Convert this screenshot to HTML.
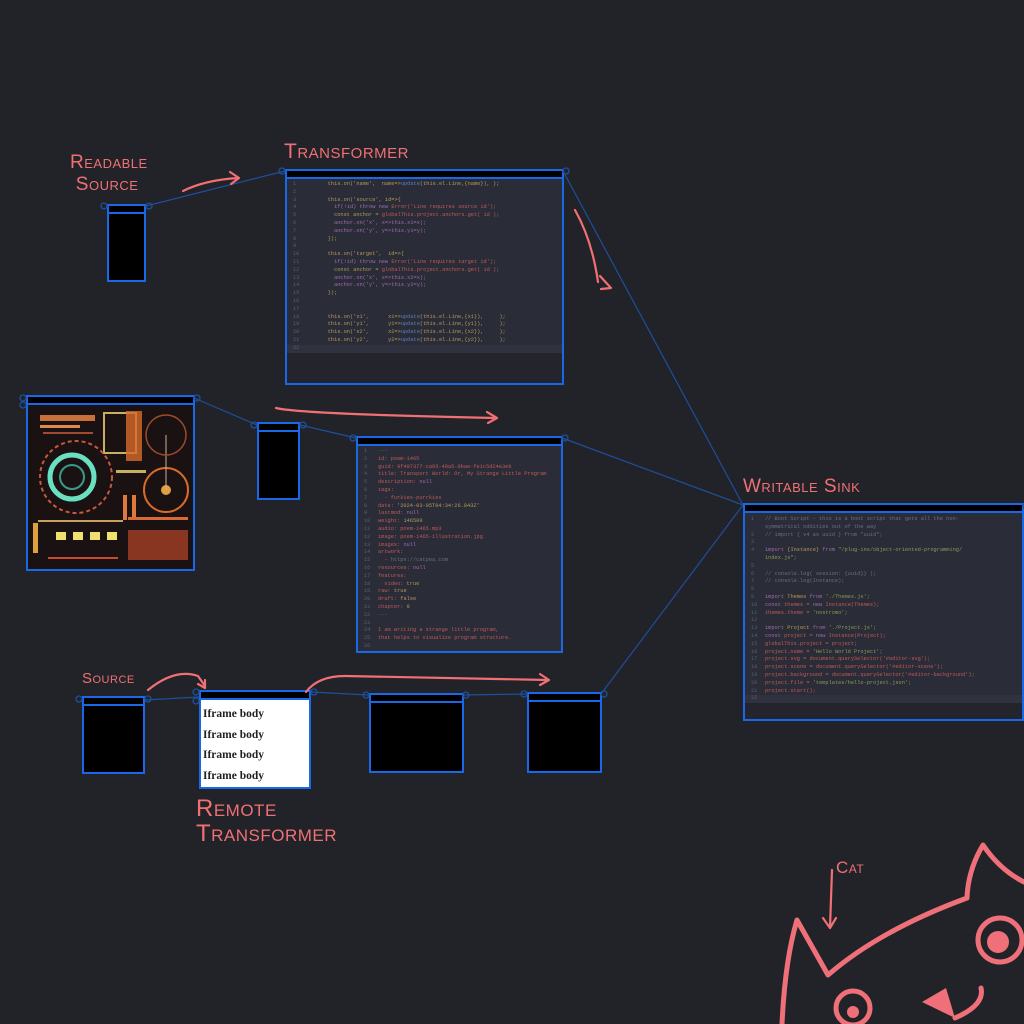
<!DOCTYPE html>
<html><head><meta charset="utf-8"><style>
body{margin:0;width:1024px;height:1024px;background:#222328;overflow:hidden;position:relative;font-family:"Liberation Mono",monospace}
.n{position:absolute;border:2px solid #1868e8;box-sizing:border-box;background:#000;overflow:hidden}
.n .h{position:absolute;left:0;right:0;top:0;height:6px;background:#000;border-bottom:2px solid #1868e8}
.code{position:absolute;left:0;right:0;top:8px;background:#2a2c37;font-size:5.3px;color:#9a8a6a;overflow:hidden}
.code div{padding-left:6px;height:7.8px;line-height:7.8px;overflow:hidden;display:block;white-space:pre}
.code .a{background:#30333f}
.ln{color:#5a5f70;display:inline-block;width:22px;height:7.8px;line-height:7.8px;vertical-align:top}
.r{color:#c05a5a}.b{color:#5a7fc0}.g{color:#8a9a5a}.p{color:#a06ab0}.y{color:#b59a5a}.c{color:#6a7080}
.lbl{position:absolute;color:#f07075;font-family:"Liberation Sans",sans-serif;font-variant:small-caps;letter-spacing:0.5px}
svg{position:absolute;left:0;top:0}
</style></head><body>

<svg width="1024" height="1024" style="z-index:0">
<g stroke="#1d4f9c" stroke-width="1.2" fill="none">
<line x1="146" y1="206" x2="285" y2="171"/>
<line x1="563" y1="171" x2="743" y2="505"/>
<line x1="194" y1="398" x2="257" y2="425"/>
<line x1="300" y1="425" x2="356" y2="438"/>
<line x1="562" y1="438" x2="743" y2="505"/>
<line x1="601" y1="694" x2="743" y2="505"/>
<line x1="145" y1="700" x2="199" y2="697"/>
<line x1="311" y1="692" x2="369" y2="695"/>
<line x1="463" y1="695" x2="527" y2="694"/>
</g>
</svg>

<div class="n" style="left:107px;top:204px;width:39px;height:78px"><div class="h"></div></div>

<div class="n" style="left:285px;top:169px;width:279px;height:216px;background:#24252c"><div class="h"></div>
<div class="code" style="top:8px;padding-top:2px">
<div><span class="ln">1</span>    <span class="y">this.on('name',  name=&gt;</span><span class="b">update</span><span class="y">(this.el.Line,{name}), );</span></div>
<div><span class="ln">2</span></div>
<div><span class="ln">3</span>    <span class="y">this.on('source', id=&gt;{</span></div>
<div><span class="ln">4</span>      <span class="p">if(!id) throw new</span> <span class="r">Error('Line requires source id');</span></div>
<div><span class="ln">5</span>      <span class="y">const anchor = </span><span class="r">globalThis.project.anchors.get( id );</span></div>
<div><span class="ln">6</span>      <span class="p">anchor.on('x', x=&gt;this.x1=x);</span></div>
<div><span class="ln">7</span>      <span class="p">anchor.on('y', y=&gt;this.y1=y);</span></div>
<div><span class="ln">8</span>    <span class="y">});</span></div>
<div><span class="ln">9</span></div>
<div><span class="ln">10</span>    <span class="y">this.on('target',  id=&gt;{</span></div>
<div><span class="ln">11</span>      <span class="p">if(!id) throw new</span> <span class="r">Error('Line requires target id');</span></div>
<div><span class="ln">12</span>      <span class="y">const anchor = </span><span class="r">globalThis.project.anchors.get( id );</span></div>
<div><span class="ln">13</span>      <span class="p">anchor.on('x', x=&gt;this.x2=x);</span></div>
<div><span class="ln">14</span>      <span class="p">anchor.on('y', y=&gt;this.y2=y);</span></div>
<div><span class="ln">15</span>    <span class="y">});</span></div>
<div><span class="ln">16</span></div>
<div><span class="ln">17</span></div>
<div><span class="ln">18</span>    <span class="y">this.on('x1',      x1=&gt;</span><span class="b">update</span><span class="y">(this.el.Line,{x1}),     );</span></div>
<div><span class="ln">19</span>    <span class="y">this.on('y1',      y1=&gt;</span><span class="b">update</span><span class="y">(this.el.Line,{y1}),     );</span></div>
<div><span class="ln">20</span>    <span class="y">this.on('x2',      x2=&gt;</span><span class="b">update</span><span class="y">(this.el.Line,{x2}),     );</span></div>
<div><span class="ln">21</span>    <span class="y">this.on('y2',      y2=&gt;</span><span class="b">update</span><span class="y">(this.el.Line,{y2}),     );</span></div>
<div class="a"><span class="ln">22</span></div>
</div></div>

<div class="n" style="left:26px;top:395px;width:169px;height:176px"><div class="h"></div>
<svg width="165" height="164" style="top:8px;left:0">
<rect width="165" height="164" fill="#1a1212"/>
<rect x="12" y="10" width="55" height="6" fill="#c8703a"/><rect x="12" y="20" width="40" height="3" fill="#e08a4a"/><rect x="15" y="27" width="50" height="2" fill="#a04a30"/>
<rect x="76" y="8" width="32" height="40" fill="none" stroke="#c8b060" stroke-width="2"/><rect x="98" y="6" width="16" height="50" fill="#d86a2a" opacity=".8"/>
<circle cx="48" cy="72" r="36" fill="none" stroke="#c85a3a" stroke-width="2" stroke-dasharray="4 3"/>
<circle cx="44" cy="72" r="22" fill="none" stroke="#6ae0c0" stroke-width="5"/><circle cx="44" cy="72" r="12" fill="none" stroke="#3a9a8a" stroke-width="2"/>
<circle cx="138" cy="85" r="22" fill="none" stroke="#d86a2a" stroke-width="2"/><circle cx="138" cy="85" r="5" fill="#e0a040"/><line x1="138" y1="30" x2="138" y2="85" stroke="#d0b090"/>
<circle cx="138" cy="30" r="20" fill="none" stroke="#a04a2a" stroke-width="1.5"/>
<rect x="88" y="65" width="30" height="3" fill="#c8b060"/><rect x="95" y="90" width="4" height="25" fill="#e07a3a"/><rect x="104" y="90" width="4" height="25" fill="#e07a3a"/>
<rect x="5" y="118" width="5" height="30" fill="#e0a040"/><rect x="28" y="127" width="10" height="8" fill="#f0e070"/><rect x="45" y="127" width="10" height="8" fill="#f0e070"/><rect x="62" y="127" width="10" height="8" fill="#f0e070"/><rect x="79" y="127" width="10" height="8" fill="#f0e070"/>
<rect x="10" y="115" width="85" height="2" fill="#c8a060"/><rect x="20" y="152" width="70" height="2" fill="#c84a30"/>
<rect x="100" y="125" width="60" height="30" fill="#b8442a" opacity=".7"/><rect x="100" y="112" width="60" height="3" fill="#d86a3a"/>
</svg></div>

<div class="n" style="left:257px;top:422px;width:43px;height:78px"><div class="h"></div></div>

<div class="n" style="left:356px;top:436px;width:207px;height:217px;background:#2a2c37"><div class="h"></div>
<div class="code" style="top:10px">
<div><span class="ln" style="width:14px">1</span><span class="c">---</span></div>
<div><span class="ln" style="width:14px">2</span><span class="r">id: poem-1465</span></div>
<div><span class="ln" style="width:14px">3</span><span class="r">guid: 9f497377-ca93-40a5-9bae-fe1c5d24e3eb</span></div>
<div><span class="ln" style="width:14px">4</span><span class="r">title: Transport World: Or, My Strange Little Program</span></div>
<div><span class="ln" style="width:14px">5</span><span class="r">description: </span><span class="p">null</span></div>
<div><span class="ln" style="width:14px">6</span><span class="r">tags:</span></div>
<div><span class="ln" style="width:14px">7</span><span class="r">  - furkies-purrkies</span></div>
<div><span class="ln" style="width:14px">8</span><span class="r">date: </span><span class="y">'2024-03-05T04:34:26.843Z'</span></div>
<div><span class="ln" style="width:14px">9</span><span class="r">lastmod: </span><span class="p">null</span></div>
<div><span class="ln" style="width:14px">10</span><span class="r">weight: </span><span class="y">146500</span></div>
<div><span class="ln" style="width:14px">11</span><span class="r">audio: poem-1465.mp3</span></div>
<div><span class="ln" style="width:14px">12</span><span class="r">image: poem-1465-illustration.jpg</span></div>
<div><span class="ln" style="width:14px">13</span><span class="r">images: </span><span class="p">null</span></div>
<div><span class="ln" style="width:14px">14</span><span class="r">artwork:</span></div>
<div><span class="ln" style="width:14px">15</span><span class="r">  - </span><span class="c">https://catpea.com</span></div>
<div><span class="ln" style="width:14px">16</span><span class="r">resources: </span><span class="p">null</span></div>
<div><span class="ln" style="width:14px">17</span><span class="r">features:</span></div>
<div><span class="ln" style="width:14px">18</span><span class="r">  video: </span><span class="y">true</span></div>
<div><span class="ln" style="width:14px">19</span><span class="r">raw: </span><span class="y">true</span></div>
<div><span class="ln" style="width:14px">20</span><span class="r">draft: </span><span class="y">false</span></div>
<div><span class="ln" style="width:14px">21</span><span class="r">chapter: </span><span class="y">9</span></div>
<div><span class="ln" style="width:14px">22</span><span class="c">---</span></div>
<div><span class="ln" style="width:14px">23</span></div>
<div><span class="ln" style="width:14px">24</span><span class="r">I am writing a strange little program,</span></div>
<div><span class="ln" style="width:14px">25</span><span class="r">that helps to visualize program structure.</span></div>
<div><span class="ln" style="width:14px">26</span></div>
<div><span class="ln" style="width:14px">27</span><span class="r">It can generate code based on diagrams</span></div>
</div></div>

<div class="n" style="left:743px;top:503px;width:281px;height:218px;background:#24252c"><div class="h"></div>
<div class="code" style="top:8px;padding-top:3px">
<div><span class="ln" style="width:14px">1</span><span class="c">// Boot Script - this is a boot script that gets all the non-</span></div>
<div><span class="ln" style="width:14px"></span><span class="c">symmetrical oddities out of the way</span></div>
<div><span class="ln" style="width:14px">2</span><span class="c">// import { v4 as uuid } from "uuid";</span></div>
<div><span class="ln" style="width:14px">3</span></div>
<div><span class="ln" style="width:14px">4</span><span class="p">import</span> <span class="y">{Instance}</span> <span class="p">from</span> <span class="g">"/plug-ins/object-oriented-programming/</span></div>
<div><span class="ln" style="width:14px"></span><span class="g">index.js";</span></div>
<div><span class="ln" style="width:14px">5</span></div>
<div><span class="ln" style="width:14px">6</span><span class="c">// console.log( session: {uuid}} );</span></div>
<div><span class="ln" style="width:14px">7</span><span class="c">// console.log(Instance);</span></div>
<div><span class="ln" style="width:14px">8</span></div>
<div><span class="ln" style="width:14px">9</span><span class="p">import</span> <span class="y">Themes</span> <span class="p">from</span> <span class="g">'./Themes.js';</span></div>
<div><span class="ln" style="width:14px">10</span><span class="p">const</span> <span class="r">themes = </span><span class="p">new</span> <span class="r">Instance(Themes);</span></div>
<div><span class="ln" style="width:14px">11</span><span class="r">themes.theme = </span><span class="g">'nostromo';</span></div>
<div><span class="ln" style="width:14px">12</span></div>
<div><span class="ln" style="width:14px">13</span><span class="p">import</span> <span class="y">Project</span> <span class="p">from</span> <span class="g">'./Project.js';</span></div>
<div><span class="ln" style="width:14px">14</span><span class="p">const</span> <span class="r">project = </span><span class="p">new</span> <span class="r">Instance(Project);</span></div>
<div><span class="ln" style="width:14px">15</span><span class="r">globalThis.project = project;</span></div>
<div><span class="ln" style="width:14px">16</span><span class="r">project.name = </span><span class="g">'Hello World Project';</span></div>
<div><span class="ln" style="width:14px">17</span><span class="r">project.svg = document.querySelector('#editor-svg');</span></div>
<div><span class="ln" style="width:14px">18</span><span class="r">project.scene = document.querySelector('#editor-scene');</span></div>
<div><span class="ln" style="width:14px">19</span><span class="r">project.background = document.querySelector('#editor-background');</span></div>
<div><span class="ln" style="width:14px">20</span><span class="r">project.file = </span><span class="g">'templates/hello-project.json';</span></div>
<div><span class="ln" style="width:14px">21</span><span class="r">project.start();</span></div>
<div class="a"><span class="ln" style="width:14px">22</span></div>
</div></div>

<div class="n" style="left:82px;top:696px;width:63px;height:78px"><div class="h"></div></div>
<div class="n" style="left:199px;top:690px;width:112px;height:99px;background:#fff"><div class="h"></div>
<div style="position:absolute;left:2px;top:12px;font-family:'Liberation Serif',serif;font-weight:bold;font-size:11.5px;color:#222;line-height:20.7px">Iframe body<br>Iframe body<br>Iframe body<br>Iframe body</div></div>
<div class="n" style="left:369px;top:693px;width:95px;height:80px"><div class="h"></div></div>
<div class="n" style="left:527px;top:692px;width:75px;height:81px"><div class="h"></div></div>

<svg width="1024" height="1024" style="z-index:5">
<g fill="none" stroke="#1d4f9c" stroke-width="1.3">
<circle cx="104" cy="206" r="3"/><circle cx="149" cy="206" r="3"/>
<circle cx="282" cy="171" r="3"/><circle cx="566" cy="171" r="3"/>
<circle cx="23" cy="398" r="3"/><circle cx="23" cy="405" r="3"/><circle cx="197" cy="398" r="3"/>
<circle cx="254" cy="425" r="3"/><circle cx="303" cy="425" r="3"/>
<circle cx="353" cy="438" r="3"/><circle cx="565" cy="438" r="3"/>
<circle cx="1026" cy="506" r="3"/>
<circle cx="79" cy="699" r="3"/><circle cx="148" cy="699" r="3"/>
<circle cx="196" cy="692" r="3"/><circle cx="196" cy="701" r="3"/><circle cx="314" cy="692" r="3"/>
<circle cx="366" cy="695" r="3"/><circle cx="466" cy="695" r="3"/>
<circle cx="524" cy="694" r="3"/><circle cx="604" cy="694" r="3"/>
</g>
<g fill="none" stroke="#f07075" stroke-width="2.2" stroke-linecap="round" stroke-linejoin="round">
<path d="M183 191 Q205 180 238 178"/><path d="M230 172 L239 178 L231 184"/>
<path d="M575 210 Q592 240 598 282"/><path d="M600 276 L611 288 L601 289"/>
<path d="M276 408 Q300 414 495 418"/><path d="M487 412 L497 418 L488 423"/>
<path d="M148 690 Q175 668 198 676 L205 686"/><path d="M198 684 L205 688 L205 680"/>
<path d="M306 692 Q318 676 345 676 L548 680"/><path d="M540 674 L549 680 L540 685"/>
<path d="M832 870 L830 928"/><path d="M823 918 L830 928 L836 918"/>
</g>
<g fill="none" stroke="#f0707a" stroke-width="5" stroke-linecap="round" stroke-linejoin="round">
<path d="M782 1024 Q785 960 797 920 L828 975 Q880 930 967 898 Q968 870 983 845 Q1000 870 1024 882"/>
<circle cx="1000" cy="940" r="22"/>
<circle cx="853" cy="1008" r="17"/>
<path d="M955 1018 Q985 1005 981 988"/>
</g>
<g fill="#f0707a"><circle cx="998" cy="942" r="11"/><circle cx="853" cy="1012" r="6"/>
<path d="M922 1002 L946 988 L955 1018 Z"/></g>
</svg>

<div class="lbl" style="left:70px;top:152px;font-size:19px;line-height:22px;z-index:6">Readable<br>&nbsp;Source</div>
<div class="lbl" style="left:284px;top:140px;font-size:21px;z-index:6">Transformer</div>
<div class="lbl" style="left:743px;top:476px;font-size:19px;z-index:6">Writable Sink</div>
<div class="lbl" style="left:82px;top:670px;font-size:15px;z-index:6">Source</div>
<div class="lbl" style="left:196px;top:796px;font-size:24px;line-height:25px;z-index:6">Remote<br>Transformer</div>
<div class="lbl" style="left:836px;top:858px;font-size:17px;z-index:6">Cat</div>
</body></html>
